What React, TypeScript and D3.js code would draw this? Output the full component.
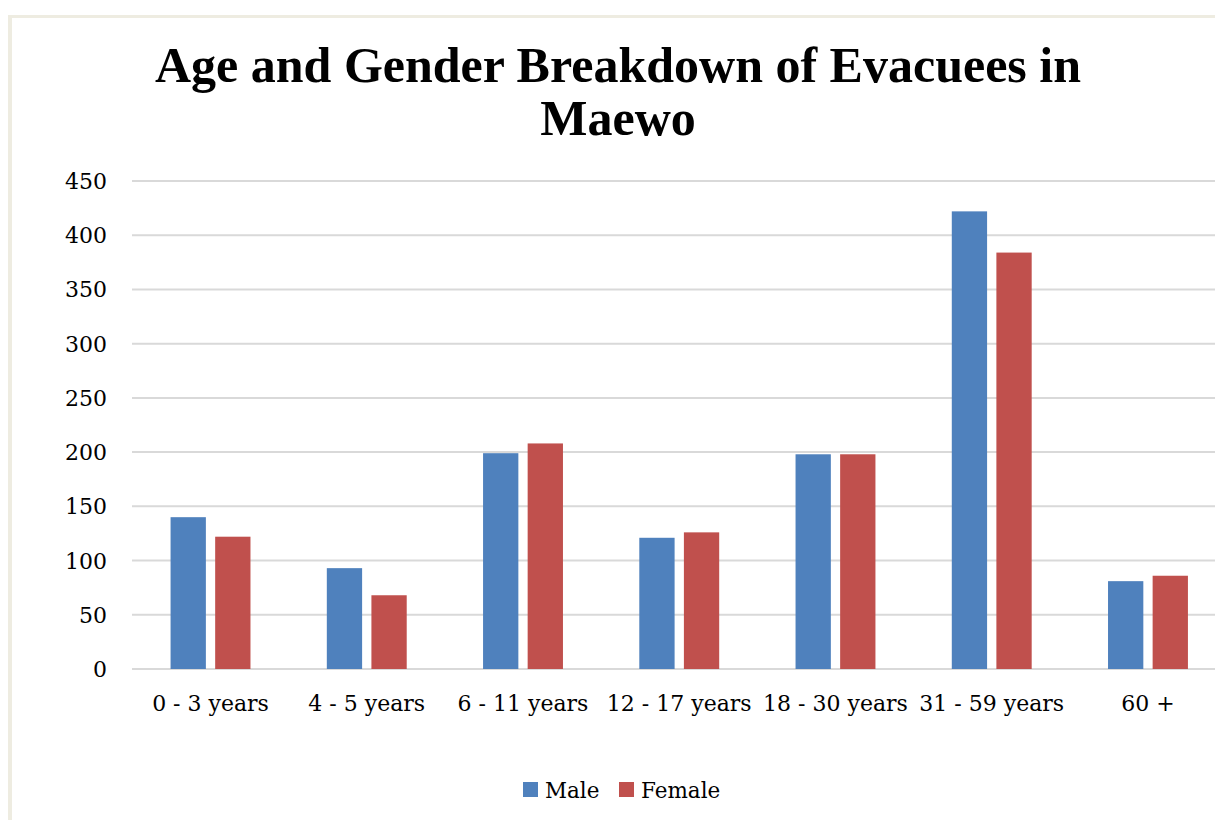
import React from "react";
import * as d3 from "d3";

const categories = ["0 - 3 years", "4 - 5 years", "6 - 11 years", "12 - 17 years", "18 - 30 years", "31 - 59 years", "60 +"];
const maleValues = [140, 93, 199, 121, 198, 422, 81];
const femaleValues = [122, 68, 208, 126, 198, 384, 86];
const seriesNames = ["Male", "Female"];
const seriesColors = ["#4f81bd", "#c0504d"];
const yTicks = [0, 50, 100, 150, 200, 250, 300, 350, 400, 450];
const titleLines = ["Age and Gender Breakdown of Evacuees in", "Maewo"];

const W = 1215, H = 820;
const TITLE_FONT = "'Liberation Serif', 'DejaVu Serif', serif";
const FONT = "'DejaVu Serif', 'Liberation Serif', serif";

export default function App() {
  const x0 = d3.scaleBand<string>().domain(categories).range([132.4, 1226.1]).paddingInner(0).paddingOuter(0);
  const y = d3.scaleLinear().domain([0, 450]).range([669, 181]);
  const bw = 35.3;
  const gap = 9.3;
  const series = [maleValues, femaleValues];

  return (
    <svg width={W} height={H} style={{ position: "absolute", left: 0, top: 0, background: "#fff" }} fontFamily={FONT}>
      <rect x={0} y={0} width={W} height={H} fill="#fff" />
      <rect x={8} y={15} width={W - 8} height={3} fill="#eeece1" />
      <rect x={8} y={15} width={4} height={H - 15} fill="#eeece1" />
      {titleLines.map((t, i) => (
        <text key={i} x={618} y={82 + i * 53} textAnchor="middle" fontSize={50} fontWeight="bold" fill="#000" fontFamily={TITLE_FONT}>{t}</text>
      ))}
      {yTicks.map((t) => (
        <g key={t}>
          <line x1={132} x2={1215} y1={y(t)} y2={y(t)} stroke="#d9d9d9" strokeWidth={2} />
          <text x={107} y={y(t) + 8} textAnchor="end" fontSize={22} fill="#000">{t}</text>
        </g>
      ))}
      {categories.map((c, ci) => {
        const cx = (x0(c) as number) + x0.bandwidth() / 2;
        return (
          <g key={c}>
            {series.map((vals, si) => {
              const bx = si === 0 ? cx - gap / 2 - bw : cx + gap / 2;
              return <rect key={si} x={bx} y={y(vals[ci])} width={bw} height={y(0) - y(vals[ci])} fill={seriesColors[si]} />;
            })}
            <text x={cx} y={711} textAnchor="middle" fontSize={22} fill="#000">{c}</text>
          </g>
        );
      })}
      {seriesNames.map((n, i) => {
        const lx = [523, 619][i];
        return (
          <g key={n}>
            <rect x={lx} y={782} width={15} height={15} fill={seriesColors[i]} />
            <text x={lx + 22} y={798} fontSize={21.5} fill="#000">{n}</text>
          </g>
        );
      })}
    </svg>
  );
}
